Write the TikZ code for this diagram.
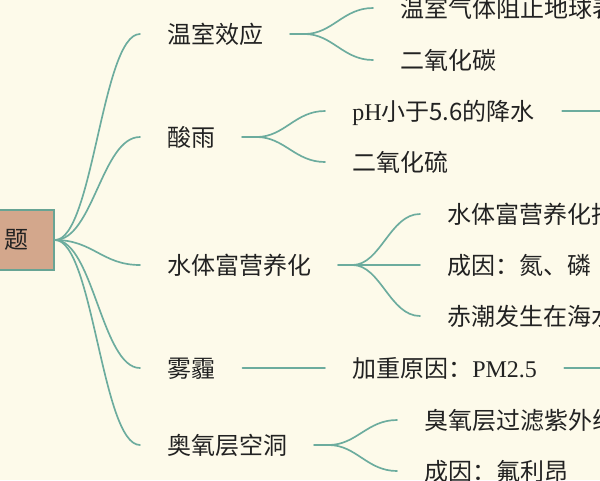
\documentclass[tikz,border=0pt]{standalone}
\usepackage{fontspec}
\setmainfont{Noto Sans CJK SC}
\newfontfamily\lat{Liberation Serif}
\definecolor{bgc}{RGB}{253,250,234}
\definecolor{linec}{RGB}{108,172,158}
\definecolor{rootfill}{RGB}{211,167,140}
\definecolor{rootline}{RGB}{104,164,148}
\definecolor{txt}{RGB}{34,34,34}
\begin{document}
\begin{tikzpicture}[x=0.75pt,y=-0.75pt,
  every node/.style={font=\fontsize{18pt}{22pt}\selectfont, text=txt},
  topic/.style={inner xsep=20.25pt, inner ysep=0pt, text height=1.45em, text depth=0.03em, anchor=west},
  rootbox/.style={draw=rootline, fill=rootfill, line width=1.4pt, minimum height=45pt, inner xsep=19.5pt, anchor=east},
  conn/.style={draw=linec, line width=1.25pt, line cap=round},
  stub/.style={draw=linec, line width=2.2pt, line cap=round}]
\clip (0,0) rectangle (600,480);
\fill[bgc] (0,0) rectangle (600,480);

% root
\node[rootbox] (R) at (55,240) {题};

% level 1
\node[topic] (A) at (140,34) {温室效应};
\node[topic] (B) at (140,137) {酸雨};
\node[topic] (C) at (140,265) {水体富营养化};
\node[topic] (D) at (140,368) {雾霾};
\node[topic] (E) at (140,445) {奥氧层空洞};

% level 2
\node[topic] (A1) at (373,8) {温室气体阻止地球表};
\node[topic] (A2) at (373,60) {二氧化碳};
\node[topic] (B1) at (325,111) {{\lat pH}小于5.6的降水};
\node[topic] (B2) at (325,162) {二氧化硫};
\node[topic] (C1) at (420,214) {水体富营养化指};
\node[topic] (C2) at (420,265) {成因：氮、磷};
\node[topic] (C3) at (420,316) {赤潮发生在海水};
\node[topic] (D1) at (325,368) {加重原因：{\lat PM2.5}};
\node[topic] (E1) at (397,420) {臭氧层过滤紫外线};
\node[topic] (E2) at (397,471) {成因：氟利昂};

\coordinate (B1x) at (610,111);
\coordinate (D1x) at (610,368);

% root connectors
\foreach \t in {A,B,C,D,E}
  \path[conn] (R.east) .. controls +(38,0) and +(-38,0) .. (\t.west);

% level-2 connectors
\foreach \p/\c in {A/A1,A/A2,B/B1,B/B2,C/C1,C/C3,E/E1,E/E2}
  \path[conn] (\p.east) -- ++(14,0) .. controls +(28,0) and +(-30,0) .. (\c.west);
\path[conn] (C.east) -- (C2.west);
\path[conn] (D.east) -- (D1.west);
\foreach \p in {A,B,C,E}
  \path[stub] (\p.east) -- ++(14,0);

% onward connectors
\path[conn] (B1.east) -- (B1x);
\path[conn] (D1.east) -- (D1x);
\end{tikzpicture}
\end{document}
